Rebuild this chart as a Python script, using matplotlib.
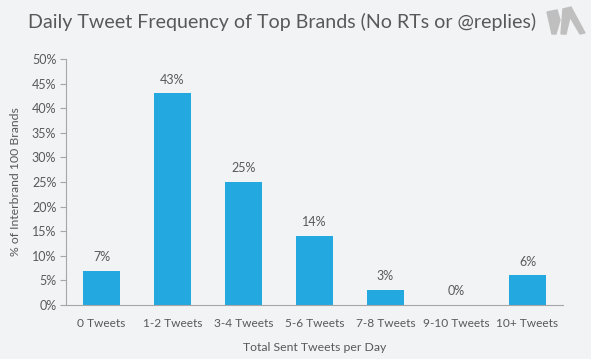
import matplotlib
matplotlib.use("Agg")
import matplotlib.pyplot as plt
from matplotlib.patches import Polygon

categories = ["0 Tweets", "1-2 Tweets", "3-4 Tweets", "5-6 Tweets", "7-8 Tweets", "9-10 Tweets", "10+ Tweets"]
values = [7, 43, 25, 14, 3, 0, 6]
yticks = [0, 5, 10, 15, 20, 25, 30, 35, 40, 45, 50]

plt.rcParams['font.family'] = ['Lato', 'DejaVu Sans']
bg = '#F2F3F5'
txt = '#595959'
bar_c = '#23A8E0'
W, H = 591, 359

fig = plt.figure(figsize=(5.91, 3.59), dpi=100, facecolor=bg)
ax = fig.add_axes([0.1117, 0.1504, 0.8409, 0.6853], facecolor=bg)
x = list(range(len(categories)))
bars = ax.bar(x, values, width=0.52, color=bar_c)
for xi, v in zip(x, values):
    ax.text(xi, v + 1.6, f"{v}%", ha='center', va='bottom', fontsize=9, color=txt)
ax.set_xlim(-0.5, len(categories) - 0.5)
ax.set_ylim(0, 50)
ax.set_yticks(yticks)
ax.set_yticklabels([f"{t}%" for t in yticks], fontsize=9, color=txt)
ax.set_xticks(x)
ax.set_xticklabels(categories, fontsize=8.6, color=txt)
ax.tick_params(axis='x', length=0, pad=9)
ax.tick_params(axis='y', length=4, color='#A6A6A6', pad=3)
for s in ['top', 'right']:
    ax.spines[s].set_visible(False)
ax.spines['left'].set_color('#A6A6A6')
ax.spines['bottom'].set_color('#A6A6A6')
ax.set_xlabel("Total Sent Tweets per Day", fontsize=8.8, color=txt, labelpad=10)
ax.set_ylabel("% of Interbrand 100 Brands", fontsize=8.8, color=txt, labelpad=8)

fig.text(0.047, 0.94, "Daily Tweet Frequency of Top Brands (No RTs or @replies)",
         fontsize=14.1, color=txt, ha='left', va='center')

# logo
logo_c = '#BFBFBF'
def px(pts):
    return [(a / W, 1 - b / H) for a, b in pts]
fig.patches.append(Polygon(px([(547, 12), (557, 10), (560, 20), (556, 34), (552, 34)]),
                           closed=True, transform=fig.transFigure, color=logo_c))
fig.patches.append(Polygon(px([(561, 34), (563, 9), (571, 7), (585, 33), (580, 34), (570, 17), (566, 34)]),
                           closed=True, transform=fig.transFigure, color=logo_c))

fig.savefig("out.png", dpi=100, facecolor=bg)
